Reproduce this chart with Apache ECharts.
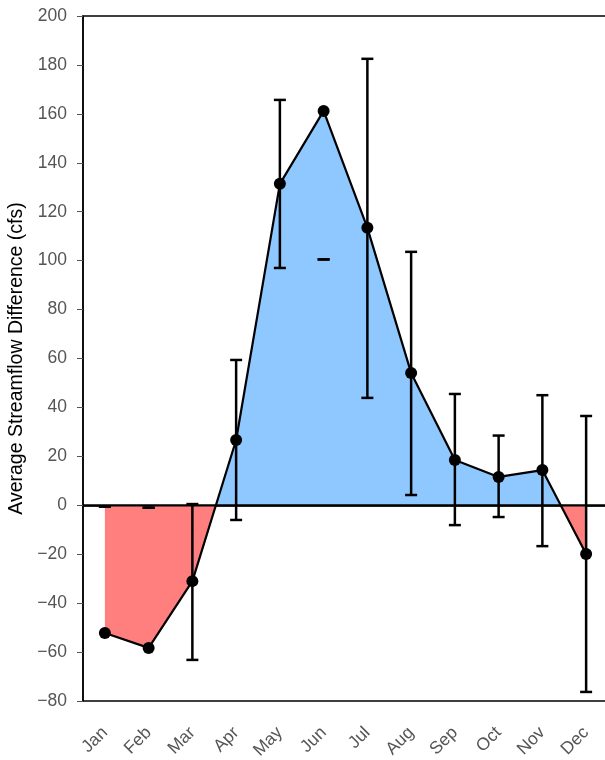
<!DOCTYPE html>
<html><head><meta charset="utf-8">
<script src="https://cdn.jsdelivr.net/npm/echarts@6/dist/echarts.min.js"></script>
<style>html,body{margin:0;padding:0;background:#fff}#c{width:605px;height:760px}</style>
</head><body><div id="c"></div>
<script>
var months = ['Jan','Feb','Mar','Apr','May','Jun','Jul','Aug','Sep','Oct','Nov','Dec'];
var meanDiff = [-52.2, -58.3, -31.0, 26.7, 131.4, 161.2, 113.4, 54.1, 18.5, 11.6, 14.4, -19.9];
var errLow  = [-0.5, -1.0, -63.2, -6.0, 97.0, 100.5, 43.9, 4.2, -8.1, -4.8, -16.7, -76.3];
var errHigh = [-0.5, -1.0, 0.5, 59.4, 165.7, 100.5, 182.5, 103.6, 45.5, 28.5, 45.0, 36.5];
var yTicks = {min: -80, max: 200, interval: 20};

var errData = months.map(function(m, i){ return [i, errLow[i], errHigh[i]]; });
var font = '"Liberation Sans", Arial, sans-serif';
var posColor = '#8fc7ff', negColor = '#ff7f7f';
var chart = echarts.init(document.getElementById('c'));
chart.setOption({
  animation: false,
  grid: {left: 83, top: 16, width: 525, height: 685, containLabel: false, outerBoundsMode: 'none',
    show: true, borderColor: '#000', borderWidth: 1.5, backgroundColor: 'transparent'},
  xAxis: {
    type: 'category', data: months, boundaryGap: true,
    axisLine: {lineStyle: {color: '#000', width: 1.5}},
    axisTick: {alignWithLabel: true, length: 7, lineStyle: {color: '#555'}},
    axisLabel: {rotate: 45, color: '#555', fontSize: 17.5, fontFamily: font, margin: 29}
  },
  yAxis: {
    type: 'value', min: yTicks.min, max: yTicks.max, interval: yTicks.interval,
    name: 'Average Streamflow Difference (cfs)', nameLocation: 'middle', nameGap: 56,
    nameTextStyle: {color: '#000', fontSize: 19.5, fontFamily: font},
    axisLine: {show: true, lineStyle: {color: '#000', width: 1.5}},
    axisTick: {show: true, length: 6, lineStyle: {color: '#555'}},
    splitLine: {show: false},
    axisLabel: {color: '#555', fontSize: 17.5, fontFamily: font, margin: 16,
      formatter: function(v){ return String(v).replace('-', '\u2212'); }}
  },
  series: [
    {id: 'area', type: 'line', data: meanDiff, symbol: 'none', lineStyle: {width: 0, opacity: 0},
     areaStyle: {opacity: 1, origin: 0, color: posColor}, z: 1},
    {type: 'custom', data: [[0, 0]], z: 2, encode: {x: 0, y: 1},
     renderItem: function(params, api){
       var cs = params.coordSys;
       var p = api.coord([0, 0]);
       return {type: 'line', shape: {x1: cs.x, y1: p[1], x2: cs.x + cs.width, y2: p[1]},
         style: {stroke: '#000', lineWidth: 2.2}};
     }},
    {type: 'line', data: meanDiff, symbol: 'circle', symbolSize: 12,
     itemStyle: {color: '#000'}, lineStyle: {color: '#000', width: 2.2}, z: 3},
    {type: 'custom', data: errData, z: 4, encode: {x: 0, y: [1, 2]},
     renderItem: function(params, api){
       var x = api.value(0);
       var lo = api.coord([x, api.value(1)]);
       var hi = api.coord([x, api.value(2)]);
       var hw = 6;
       var st = {stroke: '#000', lineWidth: 2.5, fill: null};
       var children = [
         {type: 'line', shape: {x1: lo[0]-hw, y1: lo[1], x2: lo[0]+hw, y2: lo[1]}, style: st},
         {type: 'line', shape: {x1: hi[0]-hw, y1: hi[1], x2: hi[0]+hw, y2: hi[1]}, style: st}
       ];
       if (Math.abs(lo[1]-hi[1]) > 0.5) children.push({type: 'line', shape: {x1: lo[0], y1: lo[1], x2: hi[0], y2: hi[1]}, style: st});
       return {type: 'group', children: children};
     }}
  ]
});
var y0 = chart.convertToPixel({yAxisIndex: 0}, 0);
var H = 760, f = y0 / H;
chart.setOption({series: [{id: 'area', areaStyle: {color: new echarts.graphic.LinearGradient(0, 0, 0, H, [
  {offset: 0, color: posColor}, {offset: f, color: posColor},
  {offset: f, color: negColor}, {offset: 1, color: negColor}], true)}}]});
</script></body></html>
